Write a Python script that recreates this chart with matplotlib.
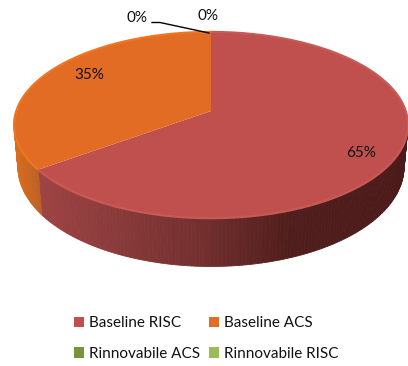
import numpy as np
import matplotlib
matplotlib.use('Agg')
import matplotlib.pyplot as plt
from matplotlib.patches import Patch, Polygon

plt.rcParams['font.family'] = ['Lato', 'DejaVu Sans']

categories = ['Baseline RISC', 'Baseline ACS', 'Rinnovabile ACS', 'Rinnovabile RISC']
values = [65, 35, 0, 0]
value_labels = ['65%', '35%', '0%', '0%']
colors = ['#c0504d', '#e36c25', '#77933c', '#9bbb59']
rim_colors = ['#c95955', '#ee7623']

# pie geometry in pixels, viewed with a slight perspective
cx, cy = 211, 111
rx, ry = 194.7, 91
persp = 0.151
depth = 41
low_scale = 0.98


def project(t):
    # t is clockwise from twelve o'clock, in degrees
    r = np.radians(t)
    s = 1 + persp * np.cos(r)
    return cx + rx * np.sin(r) / s, cy - ry * np.cos(r) / s, depth / s


def wall_color(x, stops, shades):
    rgb = [np.interp(x, stops, [matplotlib.colors.to_rgb(c)[i] for c in shades]) for i in range(3)]
    return rgb


fig = plt.figure(figsize=(4.08, 3.66), dpi=100)
ax = fig.add_axes([0, 0, 1, 1])
ax.set_xlim(0, 408)
ax.set_ylim(366, 0)
ax.axis('off')

edges = np.concatenate([[0], np.cumsum(values)]) / sum(values) * 360
split = edges[1]

# side wall, drawn as thin strips so the shading runs left to right
red_stops = [38, 110, 200, 290, 405]
red_shades = ['#9e4343', '#8b3b3b', '#73302f', '#501e1c', '#4c1b19']
orange_stops = [14, 38]
orange_shades = ['#d86d20', '#bb6124']
ts = np.arange(60, 300, 1.0)
for t0, t1 in zip(ts[:-1], ts[1:]):
    x0, y0, d0 = project(t0)
    x1, y1, d1 = project(t1)
    mid = (x0 + x1) / 2
    if t0 < split:
        c = wall_color(mid, red_stops, red_shades)
    else:
        c = wall_color(mid, orange_stops, orange_shades)
    lx0 = cx + (x0 - cx) * low_scale
    lx1 = cx + (x1 - cx) * low_scale
    ax.add_patch(Polygon([(x0, y0), (x1, y1), (lx1, y1 + d1), (lx0, y0 + d0)],
                         closed=True, fc=c, ec=c, lw=0.6, zorder=1))

# top face of each slice
for i, v in enumerate(values):
    if v == 0:
        continue
    t = np.linspace(edges[i], edges[i + 1], 200)
    x, y, _ = project(t)
    ax.add_patch(Polygon(np.column_stack([np.r_[cx, x], np.r_[cy, y]]), closed=True,
                         fc=colors[i], ec='none', zorder=2))
    ax.plot(x, y, color=rim_colors[i], lw=1.6, zorder=3, solid_capstyle='butt')

# leader line for the empty slices
ax.plot([152, 160, 209], [22.5, 22.5, 33], color='black', lw=1, zorder=4)

text_pos = [(361, 153), (89, 75), (137, 18), (208, 16)]
for lab, (tx, ty) in zip(value_labels, text_pos):
    ax.text(tx, ty, lab, ha='center', va='center', fontsize=11, color='#111111', zorder=5)

handles = [Patch(fc=c, ec='none', label=n) for c, n in zip(colors, categories)]
order = [0, 2, 1, 3]
ax.legend([handles[i] for i in order], [categories[i] for i in order], ncol=2,
          loc='center', bbox_to_anchor=(206.5 / 408, 1 - 338.5 / 366), frameon=False,
          fontsize=11, handlelength=0.65, handleheight=0.65, handletextpad=0.33,
          labelspacing=1.1, columnspacing=0.6, labelcolor='#111111', borderpad=0)

fig.savefig('out.png', dpi=100)
